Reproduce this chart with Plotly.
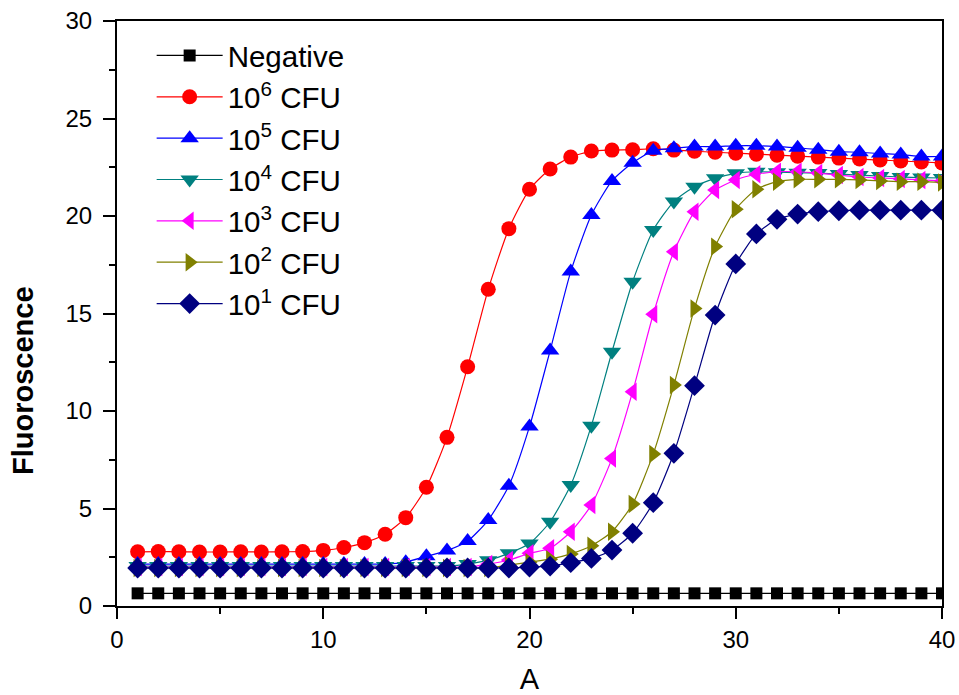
import plotly.graph_objects as go

cycles = list(range(1, 41))

negative = [0.65, 0.65, 0.65, 0.65, 0.65, 0.65, 0.65, 0.65, 0.65, 0.65,
            0.65, 0.65, 0.65, 0.65, 0.65, 0.65, 0.65, 0.65, 0.65, 0.65,
            0.65, 0.65, 0.65, 0.65, 0.65, 0.65, 0.65, 0.65, 0.65, 0.65,
            0.65, 0.65, 0.65, 0.65, 0.65, 0.65, 0.65, 0.65, 0.65, 0.65]

cfu6 = [2.78, 2.79, 2.78, 2.77, 2.77, 2.78, 2.77, 2.78, 2.79, 2.85,
        3.0, 3.25, 3.68, 4.53, 6.09, 8.65, 12.27, 16.24, 19.35, 21.37,
        22.41, 23.02, 23.33, 23.38, 23.4, 23.45, 23.38, 23.32, 23.27, 23.22,
        23.17, 23.12, 23.07, 23.02, 22.97, 22.92, 22.87, 22.82, 22.77, 22.72]

cfu5 = [2.15, 2.15, 2.15, 2.15, 2.15, 2.15, 2.15, 2.15, 2.15, 2.15,
        2.15, 2.15, 2.15, 2.25, 2.55, 2.84, 3.33, 4.41, 6.17, 9.2,
        13.1, 17.15, 20.05, 21.8, 22.73, 23.35, 23.47, 23.56, 23.56, 23.6,
        23.6, 23.56, 23.5, 23.4, 23.3, 23.27, 23.2, 23.15, 23.05, 23.05]

cfu4 = [2.05, 2.05, 2.05, 2.05, 2.05, 2.05, 2.05, 2.05, 2.05, 2.05,
        2.05, 2.05, 2.05, 2.05, 2.05, 2.05, 2.15, 2.35, 2.7, 3.2,
        4.32, 6.2, 9.25, 13.04, 16.63, 19.28, 20.74, 21.5, 21.93, 22.19,
        22.27, 22.25, 22.22, 22.2, 22.15, 22.1, 22.05, 22.0, 21.97, 21.95]

cfu3 = [2.0, 2.0, 2.0, 2.0, 2.0, 2.0, 2.0, 2.0, 2.0, 2.0,
        2.0, 2.0, 2.0, 2.0, 2.0, 2.0, 2.0, 2.15, 2.36, 2.7,
        2.96, 3.81, 5.18, 7.57, 10.99, 14.96, 18.17, 20.22, 21.33, 21.85,
        22.14, 22.27, 22.27, 22.2, 22.1, 22.0, 21.95, 21.9, 21.85, 21.8]

cfu2 = [1.95, 1.95, 1.95, 1.95, 1.95, 1.95, 1.95, 1.95, 1.95, 1.95,
        1.95, 1.95, 1.95, 1.95, 1.95, 1.95, 1.95, 1.95, 2.1, 2.25,
        2.4, 2.67, 3.09, 3.81, 5.23, 7.8, 11.33, 15.26, 18.43, 20.35,
        21.37, 21.76, 21.88, 21.88, 21.88, 21.85, 21.8, 21.76, 21.76, 21.72]

cfu1 = [1.95, 1.95, 1.95, 1.95, 1.95, 1.95, 1.95, 1.95, 1.95, 1.95,
        1.95, 1.95, 1.95, 1.95, 1.95, 1.95, 1.95, 1.95, 1.95, 2.0,
        2.05, 2.22, 2.44, 2.87, 3.73, 5.3, 7.83, 11.3, 14.92, 17.54,
        19.08, 19.83, 20.1, 20.22, 20.27, 20.3, 20.3, 20.3, 20.3, 20.3]

names = ["Negative", "10<sup>6</sup> CFU", "10<sup>5</sup> CFU", "10<sup>4</sup> CFU",
         "10<sup>3</sup> CFU", "10<sup>2</sup> CFU", "10<sup>1</sup> CFU"]
series = [negative, cfu6, cfu5, cfu4, cfu3, cfu2, cfu1]
colors = ["#000000", "#FF0000", "#0000FF", "#008080", "#FF00FF", "#808000", "#000080"]
symbols = ["square", "circle", "triangle-up", "triangle-down", "triangle-left",
           "triangle-right", "diamond"]
sizes = [12, 15, 16, 16, 16, 16, 16]

fig = go.Figure()
for name, ys, c, s, sz in zip(names, series, colors, symbols, sizes):
    fig.add_trace(go.Scatter(
        x=cycles, y=ys, name=name, mode="lines+markers",
        line=dict(color=c, width=1.2, shape="spline", smoothing=0.6),
        marker=dict(color=c, symbol=s, size=sz, line=dict(width=0)),
    ))

font_family = "Liberation Sans, Arial, sans-serif"
fig.update_layout(
    width=959, height=695,
    margin=dict(l=117, r=17, t=21, b=89),
    paper_bgcolor="white", plot_bgcolor="white",
    font=dict(family=font_family, color="black"),
    showlegend=True,
    legend=dict(x=0.042, y=0.985, xanchor="left", yanchor="top",
                bgcolor="rgba(0,0,0,0)", font=dict(size=29.5),
                itemwidth=66, tracegroupgap=0),
    xaxis=dict(
        range=[0, 40], tickvals=[0, 10, 20, 30, 40],
        ticks="outside", ticklen=11, tickwidth=2, tickcolor="black",
        minor=dict(tickvals=[5, 15, 25, 35], ticks="outside", ticklen=6,
                   tickwidth=2, tickcolor="black"),
        showline=True, linewidth=2, linecolor="black", mirror=True,
        showgrid=False, zeroline=False, automargin=False,
        ticklabeloverflow="allow",
        tickfont=dict(size=24),
        title=dict(text="A", font=dict(size=29), standoff=18),
    ),
    yaxis=dict(
        range=[0, 30], tickvals=[0, 5, 10, 15, 20, 25, 30],
        ticks="outside", ticklen=12, tickwidth=2, tickcolor="black",
        minor=dict(tickvals=[2.5, 7.5, 12.5, 17.5, 22.5, 27.5], ticks="outside",
                   ticklen=6, tickwidth=2, tickcolor="black"),
        showline=True, linewidth=2, linecolor="black", mirror=True,
        showgrid=False, zeroline=False, automargin=False,
        ticklabeloverflow="allow", ticklabelstandoff=6,
        tickfont=dict(size=24),
    ),
    annotations=[dict(
        text="<b>Fluoroscence</b>", xref="paper", yref="paper",
        x=(23 - 117) / 825, y=(606 - 381) / 585, xanchor="center", yanchor="middle",
        textangle=-90, showarrow=False, font=dict(size=29),
    )],
)

fig.write_html("out.html", config={"displayModeBar": False},
               post_script="document.body.style.margin='0';document.body.style.overflow='hidden';")
